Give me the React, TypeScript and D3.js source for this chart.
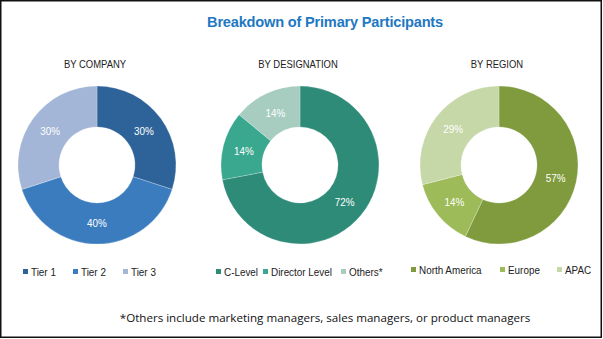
import React from "react";
import * as d3 from "d3";

const companyLabels = ["Tier 1", "Tier 2", "Tier 3"];
const companyValues = [30, 40, 30];
const companyColors = ["#2E6399", "#3B7CBF", "#A3B6D7"];

const designationLabels = ["C-Level", "Director Level", "Others*"];
const designationValues = [72, 14, 14];
const designationColors = ["#2E8B78", "#3AA88E", "#A6CDBF"];

const regionLabels = ["North America", "Europe", "APAC"];
const regionValues = [57, 14, 29];
const regionColors = ["#7F9B3D", "#9DBB58", "#C6D8A8"];

const title = "Breakdown of Primary Participants";
const footnote = "*Others include marketing managers, sales managers, or product managers";

const panels = [
  { title: "BY COMPANY", labels: companyLabels, values: companyValues, colors: companyColors, cx: 97, legendX: [23, 73, 123], legendY: 276 },
  { title: "BY DESIGNATION", labels: designationLabels, values: designationValues, colors: designationColors, cx: 300, legendX: [216, 263, 341], legendY: 276 },
  { title: "BY REGION", labels: regionLabels, values: regionValues, colors: regionColors, cx: 499, legendX: [411, 500, 557], legendY: 274 },
];

const sans = "'Liberation Sans', Arial, sans-serif";

function Narrow({ x, y, anchor = "start", fill = "#222", size = 11, children }: any) {
  return (
    <text
      transform={`translate(${x},${y}) scale(0.86,1)`}
      textAnchor={anchor}
      fontFamily={sans}
      fontSize={size}
      fill={fill}
    >
      {children}
    </text>
  );
}

function Donut({ p }: { p: typeof panels[number] }) {
  const cy = 165;
  const outer = 79;
  const inner = 38;
  const pie = d3.pie<number>().sort(null).value((d) => d);
  const arcs = pie(p.values);
  const arc = d3.arc<d3.PieArcDatum<number>>().innerRadius(inner).outerRadius(outer);
  const labelArc = d3.arc<d3.PieArcDatum<number>>().innerRadius(58).outerRadius(58);
  return (
    <g>
      <Narrow x={p.cx - 2} y={68} anchor="middle" size={11}>
        {p.title}
      </Narrow>
      <g transform={`translate(${p.cx},${cy})`}>
        {arcs.map((a, i) => (
          <path key={i} d={arc(a) || ""} fill={p.colors[i]} stroke="#ffffff" strokeWidth={0.4} strokeOpacity={0.6} />
        ))}
        {arcs.map((a, i) => {
          const [x, y] = labelArc.centroid(a);
          return (
            <Narrow key={i} x={x} y={y + 4} anchor="middle" fill="#ffffff" size={11.5}>
              {p.values[i]}%
            </Narrow>
          );
        })}
      </g>
      {p.labels.map((l, i) => (
        <g key={i}>
          <rect x={p.legendX[i]} y={p.legendY - 7} width={5} height={5} fill={p.colors[i]} />
          <Narrow x={p.legendX[i] + 8} y={p.legendY} size={11.5}>
            {l}
          </Narrow>
        </g>
      ))}
    </g>
  );
}

export default function App() {
  return (
    <svg width={603} height={339} style={{ position: "absolute", left: 0, top: 0, background: "#fff" }}>
      <rect x={0.75} y={0.75} width={600.5} height={336.5} fill="#fff" stroke="#111" strokeWidth={1.5} />
      <text x={325} y={27} textAnchor="middle" fontFamily={sans} fontWeight="bold" fontSize={14.6} fill="#1E78C2" letterSpacing={-0.2}>
        {title}
      </text>
      {panels.map((p, i) => (
        <Donut key={i} p={p} />
      ))}
      <text x={325} y={322} textAnchor="middle" fontFamily="'Open Sans', 'Noto Sans', sans-serif" fontSize={11.6} fill="#111">
        {footnote}
      </text>
    </svg>
  );
}
